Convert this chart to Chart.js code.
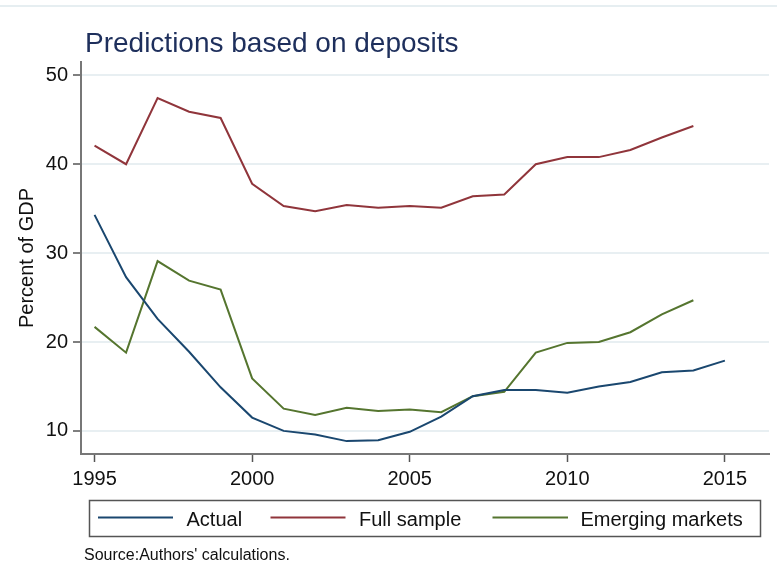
<!DOCTYPE html>
<html>
<head>
<meta charset="utf-8">
<script src="https://cdn.jsdelivr.net/npm/chart.js@4/dist/chart.umd.min.js"></script>
<style>
html,body{margin:0;padding:0;background:#fff;}
#wrap{position:relative;width:777px;height:583px;}
</style>
</head>
<body>
<div id="wrap"><canvas id="c" width="777" height="583"></canvas></div>
<script>
// ---- data ----
const years = [1995,1996,1997,1998,1999,2000,2001,2002,2003,2004,2005,2006,2007,2008,2009,2010,2011,2012,2013,2014,2015];
const actual = [34.3,27.3,22.6,18.9,14.9,11.5,10.0,9.6,8.85,8.95,9.9,11.6,13.9,14.6,14.6,14.3,15.0,15.5,16.6,16.8,17.9];
const fullSample = [42.1,40.0,47.45,45.9,45.2,37.8,35.3,34.7,35.4,35.1,35.3,35.1,36.4,36.6,40.0,40.8,40.8,41.6,43.0,44.3];
const emerging = [21.7,18.8,29.1,26.9,25.9,15.9,12.5,11.8,12.6,12.25,12.4,12.1,13.9,14.4,18.8,19.9,20.0,21.1,23.1,24.7];
const xTicks = [1995,2000,2005,2010,2015];
const yTicks = [10,20,30,40,50];
const seriesNames = ["Actual","Full sample","Emerging markets"];
const titleText = "Predictions based on deposits";
const yTitle = "Percent of GDP";
const sourceText = "Source:Authors' calculations.";

const colors = ["#1a476f","#90353b","#55752f"];
const FONT = "'Liberation Sans', Arial, sans-serif";

function pts(vals){ return vals.map((v,i)=>({x:years[i], y:v})); }

const decor = {
  id:'decor',
  afterDraw(chart){
    const ctx = chart.ctx;
    ctx.save();
    // top thin line
    ctx.strokeStyle = '#e6eef1'; ctx.lineWidth = 2;
    ctx.beginPath(); ctx.moveTo(0,6); ctx.lineTo(777,6); ctx.stroke();
    // title
    ctx.fillStyle = '#1e2f5c';
    ctx.font = '28px ' + FONT;
    ctx.textBaseline = 'alphabetic'; ctx.textAlign = 'left';
    ctx.fillText(titleText, 85, 52);
    // y title
    ctx.save();
    ctx.translate(33, 258);
    ctx.rotate(-Math.PI/2);
    ctx.textAlign = 'center';
    ctx.fillStyle = '#111';
    ctx.font = '20px ' + FONT;
    ctx.fillText(yTitle, 0, 0);
    ctx.restore();
    // legend box
    ctx.strokeStyle = '#555'; ctx.lineWidth = 1.5;
    ctx.strokeRect(89.5, 500.5, 671, 36);
    const segs = [[98,173,186.5],[270.5,345.5,359],[492.5,568,580.5]];
    ctx.font = '20px ' + FONT;
    ctx.fillStyle = '#111';
    segs.forEach((s,i)=>{
      ctx.strokeStyle = colors[i]; ctx.lineWidth = 2;
      ctx.beginPath(); ctx.moveTo(s[0],517.5); ctx.lineTo(s[1],517.5); ctx.stroke();
      ctx.fillText(seriesNames[i], s[2], 525.5);
    });
    // source
    ctx.font = '16px ' + FONT;
    ctx.fillText(sourceText, 84, 560);
    ctx.restore();
  }
};

new Chart(document.getElementById('c'), {
  type:'line',
  data:{
    datasets:[
      {label:seriesNames[0], data:pts(actual), borderColor:colors[0]},
      {label:seriesNames[1], data:pts(fullSample), borderColor:colors[1]},
      {label:seriesNames[2], data:pts(emerging), borderColor:colors[2]}
    ].map(d=>Object.assign(d,{borderWidth:2, pointRadius:0, tension:0, fill:false}))
  },
  options:{
    responsive:false,
    animation:false,
    events:[],
    layout:{padding:{top:62,right:8,left:0,bottom:0}},
    plugins:{legend:{display:false}, title:{display:false}, tooltip:{enabled:false}},
    scales:{
      x:{
        type:'linear', min:1994.57, max:2016.4,
        afterBuildTicks(s){ s.ticks = xTicks.map(v=>({value:v})); },
        afterFit(s){ s.height = 129; },
        grid:{drawOnChartArea:false, drawTicks:true, tickLength:8, tickColor:'#555', tickWidth:1.5},
        border:{color:'#777', width:2},
        ticks:{font:{family:FONT, size:20}, color:'#111', padding:5, maxRotation:0, autoSkip:false,
               callback:(v)=>String(v)}
      },
      y:{
        min:7.4, max:51.5,
        afterBuildTicks(s){ s.ticks = yTicks.map(v=>({value:v})); },
        afterFit(s){ s.width = 81; },
        grid:{color:'#e8eff2', lineWidth:2, drawTicks:true, tickLength:8, tickColor:'#555', tickWidth:1.5},
        border:{color:'#777', width:2},
        ticks:{font:{family:FONT, size:20}, color:'#111', padding:5, autoSkip:false,
               callback:(v)=>String(v)}
      }
    }
  },
  plugins:[decor]
});
</script>
</body>
</html>
